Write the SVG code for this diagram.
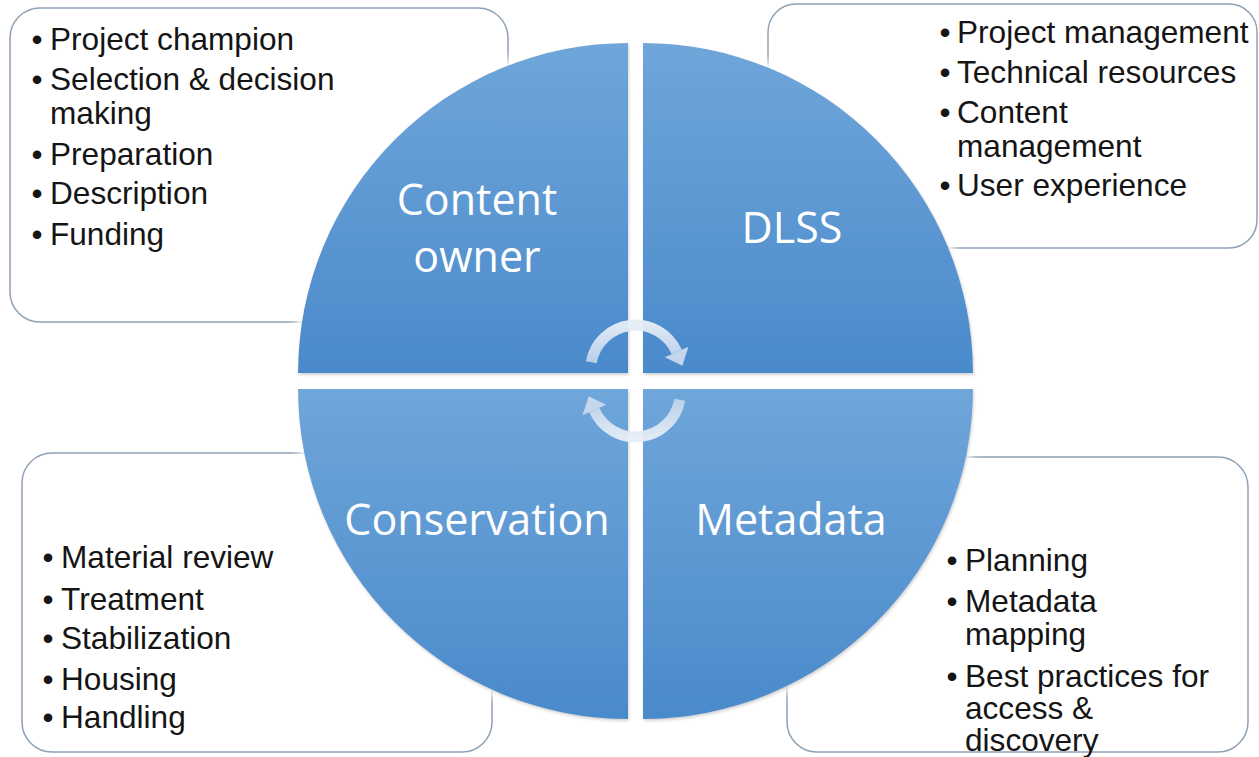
<svg xmlns="http://www.w3.org/2000/svg" width="1259" height="757" viewBox="0 0 1259 757">
<defs>
<linearGradient id="qg" x1="0" y1="0" x2="0" y2="1">
<stop offset="0" stop-color="#6fa6da"/>
<stop offset="1" stop-color="#4a8acb"/>
</linearGradient>
<linearGradient id="ag" x1="0" y1="0" x2="0" y2="1">
<stop offset="0" stop-color="#e6eef8"/>
<stop offset="1" stop-color="#bfd3ea"/>
</linearGradient>
<filter id="glow" x="-10%" y="-10%" width="120%" height="120%">
<feMorphology in="SourceAlpha" operator="dilate" radius="4" result="d"/>
<feGaussianBlur in="d" stdDeviation="5" result="b"/>
<feFlood flood-color="#ffffff"/>
<feComposite in2="b" operator="in" result="w"/>
<feGaussianBlur in="SourceAlpha" stdDeviation="1.5" result="sb"/>
<feOffset in="sb" dx="1" dy="2" result="so"/>
<feFlood flood-color="#000000" flood-opacity="0.35"/>
<feComposite in2="so" operator="in" result="s"/>
<feMerge><feMergeNode in="w"/><feMergeNode in="s"/><feMergeNode in="SourceGraphic"/></feMerge>
</filter>
<g id="arrowShape">
<path d="M-44.3,-7.8 A45,45 0 0 1 41.2,-18" fill="none" stroke="url(#ag)" stroke-width="11"/>
<path d="M53,-23.2 L29.4,-12.8 L46.8,-4.2 Z" fill="#c9daee"/>
</g>
</defs>
<style>
.box{fill:#ffffff;stroke:#8fa1b6;stroke-width:1.5}
.quad{fill:url(#qg);filter:url(#glow)}
.item{font-family:"Liberation Sans",Arial,sans-serif;font-size:31.6px;fill:#151515}
.lbl{font-family:"Open Sans","Noto Sans",sans-serif;font-size:43px;fill:#ffffff;text-anchor:middle}
</style>
<rect width="1259" height="757" fill="#ffffff"/>

<g id="box-content-owner">
<rect class="box" x="10" y="8" width="498" height="314" rx="30"/>
<text class="item" x="31.5" y="50">•</text><text class="item" x="50" y="50">Project champion</text>
<text class="item" x="31.5" y="90">•</text><text class="item" x="50" y="90">Selection &amp; decision</text>
<text class="item" x="50" y="124">making</text>
<text class="item" x="31.5" y="165">•</text><text class="item" x="50" y="165">Preparation</text>
<text class="item" x="31.5" y="204">•</text><text class="item" x="50" y="204">Description</text>
<text class="item" x="31.5" y="245">•</text><text class="item" x="50" y="245">Funding</text>
</g>

<g id="box-dlss">
<rect class="box" x="768" y="4" width="489" height="244" rx="28"/>
<text class="item" x="939.5" y="43">•</text><text class="item" x="957" y="43">Project management</text>
<text class="item" x="939.5" y="83">•</text><text class="item" x="957" y="83">Technical resources</text>
<text class="item" x="939.5" y="123">•</text><text class="item" x="957" y="123">Content</text>
<text class="item" x="957" y="157">management</text>
<text class="item" x="939.5" y="196">•</text><text class="item" x="957" y="196">User experience</text>
</g>

<g id="box-conservation">
<rect class="box" x="22" y="453" width="470" height="299" rx="30"/>
<text class="item" x="42.5" y="568">•</text><text class="item" x="61" y="568">Material review</text>
<text class="item" x="42.5" y="610">•</text><text class="item" x="61" y="610">Treatment</text>
<text class="item" x="42.5" y="649">•</text><text class="item" x="61" y="649">Stabilization</text>
<text class="item" x="42.5" y="690">•</text><text class="item" x="61" y="690">Housing</text>
<text class="item" x="42.5" y="728">•</text><text class="item" x="61" y="728">Handling</text>
</g>

<g id="box-metadata">
<rect class="box" x="787" y="457" width="461" height="295" rx="30"/>
<text class="item" x="946.5" y="571">•</text><text class="item" x="965" y="571">Planning</text>
<text class="item" x="946.5" y="612">•</text><text class="item" x="965" y="612">Metadata</text>
<text class="item" x="965" y="645">mapping</text>
<text class="item" x="946.5" y="687">•</text><text class="item" x="965" y="687">Best practices for</text>
<text class="item" x="965" y="719">access &amp;</text>
<text class="item" x="965" y="751">discovery</text>
</g>

<g id="quad-content-owner">
<path class="quad" d="M628,373 L298,373 A330,330 0 0 1 628,43 Z"/>
<text class="lbl" x="477" y="215">Content</text>
<text class="lbl" x="477" y="272">owner</text>
</g>
<g id="quad-dlss">
<path class="quad" d="M643,373 L643,43 A330,330 0 0 1 973,373 Z"/>
<text class="lbl" x="792" y="243">DLSS</text>
</g>
<g id="quad-conservation">
<path class="quad" d="M628,389 L628,719 A330,330 0 0 1 298,389 Z"/>
<text class="lbl" x="477" y="535">Conservation</text>
</g>
<g id="quad-metadata">
<path class="quad" d="M643,389 L973,389 A330,330 0 0 1 643,719 Z"/>
<text class="lbl" x="791" y="535">Metadata</text>
</g>

<g id="connectors" opacity="0.95">
<use href="#arrowShape" transform="translate(635.5,370)"/>
<use href="#arrowShape" transform="translate(635.5,392) rotate(180)"/>
</g>
</svg>
